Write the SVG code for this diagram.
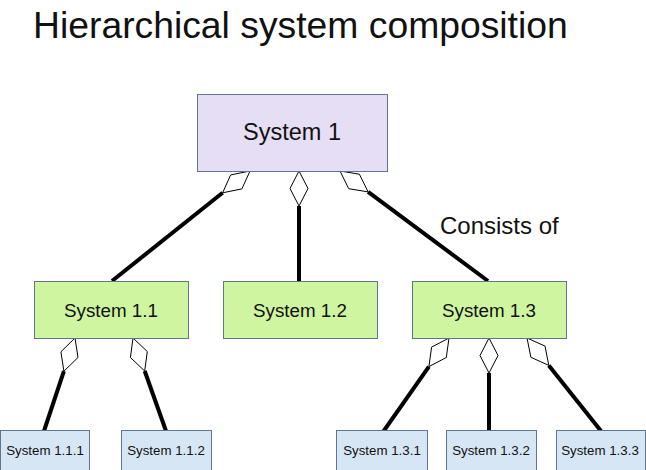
<svg xmlns="http://www.w3.org/2000/svg" width="646" height="470" viewBox="0 0 646 470">
<style>
text{font-family:"Liberation Sans",Arial,sans-serif;fill:#111;}
.top{fill:#e5def4;stroke:#5f7590;stroke-width:1;}
.mid{fill:#cff5a0;stroke:#5f7590;stroke-width:1;}
.leaf{fill:#d6e6f5;stroke:#5f7590;stroke-width:1;}
.line{stroke:#000;stroke-width:4;fill:none;}
.dia{fill:#fff;stroke:#000;stroke-width:1;}
</style>
<rect width="646" height="470" fill="#fff"/>
<text x="33" y="38" font-size="37.3">Hierarchical system composition</text>
<g id="connectors">
<path class="line" d="M222.6,192.8 L112,281"/>
<polygon class="dia" points="250,171 241.9,188.9 222.6,192.8 230.7,174.9"/>
<path class="line" d="M299,206 L299,281"/>
<polygon class="dia" points="299,171 308,188.5 299,206 290,188.5"/>
<path class="line" d="M368.1,191.9 L488,281"/>
<polygon class="dia" points="340,171 348.7,188.7 368.1,191.9 359.4,174.2"/>
<path class="line" d="M63.9,371.2 L44,431"/>
<polygon class="dia" points="75,338 78,357.5 63.9,371.2 60.9,351.8"/>
<path class="line" d="M144.7,371 L166,431"/>
<polygon class="dia" points="133,338 130.4,357.5 144.7,371 147.3,351.5"/>
<path class="line" d="M428.9,366.6 L383,432"/>
<polygon class="dia" points="449,338 446.3,357.5 428.9,366.6 431.6,347.1"/>
<path class="line" d="M489,373 L489,432"/>
<polygon class="dia" points="489,338 498,355.5 489,373 480,355.5"/>
<path class="line" d="M548.8,365.4 L601,431"/>
<polygon class="dia" points="527,338 530.9,357.3 548.8,365.4 545,346.1"/>
<text x="440" y="234" font-size="24">Consists of</text>
</g>
<g id="system1"><rect class="top" x="197.5" y="94.5" width="190" height="77"/><text x="292" y="140" font-size="23.5" text-anchor="middle">System 1</text></g>
<g id="system1_1"><rect class="mid" x="34.5" y="281.5" width="154" height="57"/><text x="111" y="317" font-size="18.8" text-anchor="middle">System 1.1</text></g>
<g id="system1_2"><rect class="mid" x="223.5" y="281.5" width="154" height="57"/><text x="300" y="317" font-size="18.8" text-anchor="middle">System 1.2</text></g>
<g id="system1_3"><rect class="mid" x="412.5" y="281.5" width="154" height="57"/><text x="489" y="317" font-size="18.8" text-anchor="middle">System 1.3</text></g>
<g id="system1_1_1"><rect class="leaf" x="0.5" y="430.5" width="89" height="50"/><text x="45" y="455" font-size="13.3" text-anchor="middle">System 1.1.1</text></g>
<g id="system1_1_2"><rect class="leaf" x="121.5" y="430.5" width="90" height="50"/><text x="166" y="455" font-size="13.3" text-anchor="middle">System 1.1.2</text></g>
<g id="system1_3_1"><rect class="leaf" x="336.5" y="430.5" width="91" height="50"/><text x="382" y="455" font-size="13.3" text-anchor="middle">System 1.3.1</text></g>
<g id="system1_3_2"><rect class="leaf" x="446.5" y="430.5" width="90" height="50"/><text x="491" y="455" font-size="13.3" text-anchor="middle">System 1.3.2</text></g>
<g id="system1_3_3"><rect class="leaf" x="556.5" y="430.5" width="89" height="50"/><text x="600" y="455" font-size="13.3" text-anchor="middle">System 1.3.3</text></g>
</svg>
